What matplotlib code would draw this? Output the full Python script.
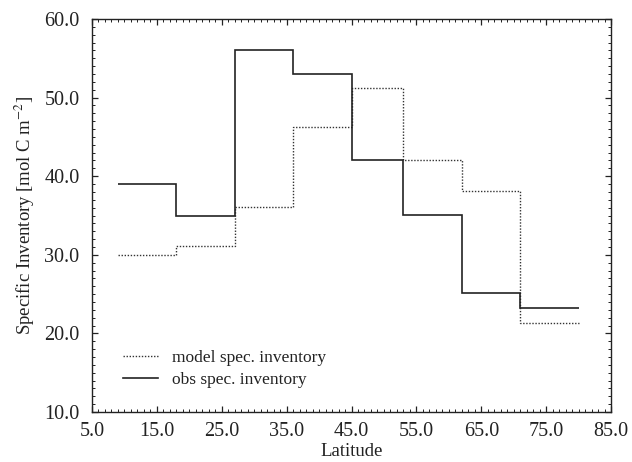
import matplotlib
matplotlib.use("Agg")
import matplotlib.pyplot as plt
from matplotlib.ticker import MultipleLocator, FormatStrFormatter

# Latitude band edges and specific inventories per band
lat_edges = [9.0, 18.0, 27.0, 36.0, 45.0, 53.0, 62.0, 71.0, 80.0]
model_inventory = [30.0, 31.1, 36.1, 46.2, 51.2, 42.1, 38.1, 21.3]
obs_inventory = [39.0, 35.0, 56.0, 53.0, 42.0, 35.1, 25.2, 23.2]
x_ticks = [5, 15, 25, 35, 45, 55, 65, 75, 85]
y_ticks = [10, 20, 30, 40, 50, 60]

plt.rcParams["font.family"] = ["Liberation Serif", "DejaVu Serif"]
plt.rcParams["mathtext.fontset"] = "stix"

fig = plt.figure(figsize=(6.32, 4.62), dpi=100)
ax = fig.add_axes([92 / 632, 1 - 412 / 462, (611 - 92) / 632, (412 - 19) / 462])

ax.stairs(model_inventory, lat_edges, baseline=None, color="#333333",
          linestyle=(0, (1, 1.2)), linewidth=1.0, label="model spec. inventory")
ax.stairs(obs_inventory, lat_edges, baseline=None, color="#222222",
          linestyle="-", linewidth=1.2, label="obs spec. inventory")

ax.set_xlim(5, 85)
ax.set_ylim(10, 60)
ax.set_xticks(x_ticks)
ax.set_yticks(y_ticks)
ax.xaxis.set_minor_locator(MultipleLocator(1))
ax.yaxis.set_minor_locator(MultipleLocator(1))
ax.xaxis.set_major_formatter(FormatStrFormatter("%.1f"))
ax.yaxis.set_major_formatter(FormatStrFormatter("%.1f"))
ax.tick_params(which="both", direction="in", top=True, right=True,
               labelsize=14.5, colors="#222222")
ax.tick_params(which="major", length=4, width=0.9)
ax.tick_params(which="minor", length=2, width=0.7)
ax.tick_params(axis="y", which="major", pad=9)
ax.tick_params(axis="x", which="major", pad=7)
for s in ax.spines.values():
    s.set_linewidth(1.0)
    s.set_color("#222222")

ax.set_xlabel("Latitude", fontsize=13.5, color="#222222", labelpad=2)
ax.set_ylabel("Specific Inventory [mol C m$^{-2}$]", fontsize=13.5,
              color="#222222", labelpad=5)

leg = ax.legend(loc="lower left", bbox_to_anchor=(0.06, 0.06), frameon=False,
                fontsize=12.5, handlelength=2.0, handletextpad=0.8,
                labelspacing=0.35, borderpad=0, borderaxespad=0)
for t in leg.get_texts():
    t.set_color("#222222")

fig.savefig("out.png", dpi=100)
